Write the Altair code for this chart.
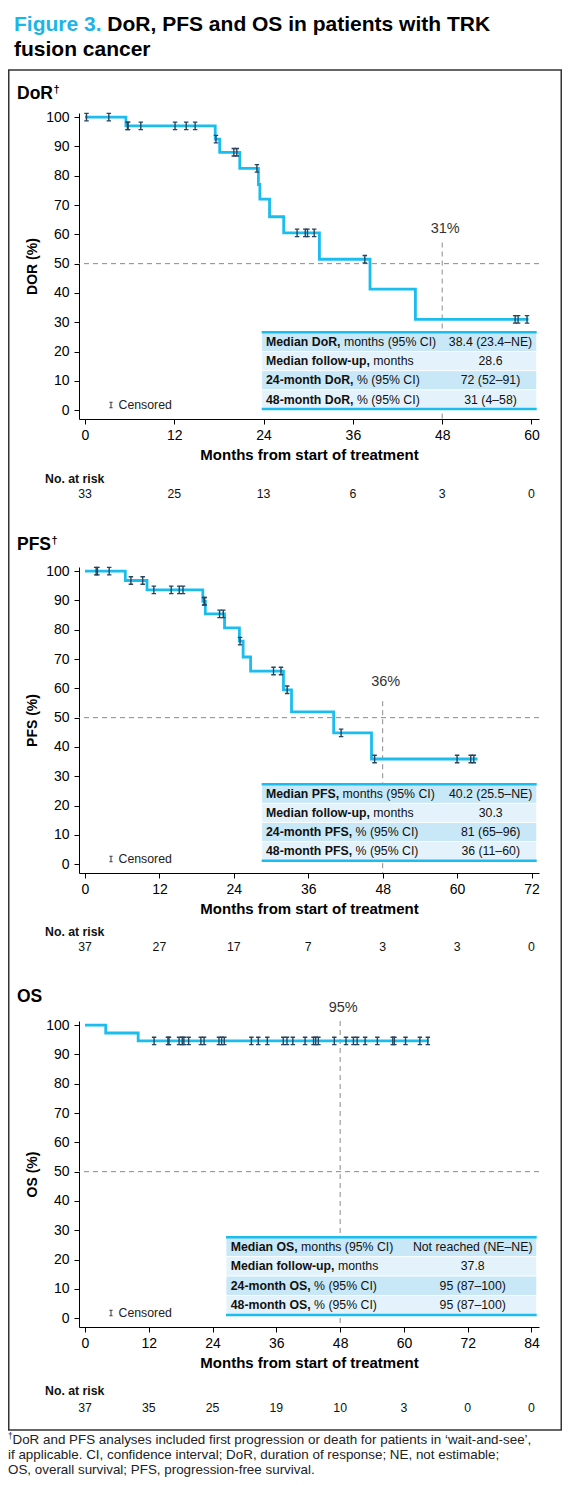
import altair as alt
import pandas as pd

FONT = "Liberation Sans"
CYAN = "#1bbdee"
CENSOR_COL = "#26445f"
DASH_COL = "#8a8a8a"
TXT = "#111111"
ROW_A = "#c8e8f7"
ROW_B = "#e4f3fb"
TITLE_CYAN = "#1cb5e8"

# ---------------- data ----------------
DOR_T = [0, 5.5, 17.5, 18.1, 20.8, 23.3, 23.5, 24.8, 26.7, 31.5, 38.3, 44.4, 59.6]
DOR_S = [100, 97, 92.5, 88, 82.5, 77, 72, 66, 60.5, 51.5, 41.3, 31, 31]
DOR_CENS_T = [0.2, 3.2, 5.7, 5.8, 7.5, 12.1, 13.6, 14.8, 17.6, 20.0, 20.4, 23.1,
              28.5, 29.6, 29.9, 30.8, 37.6, 57.8, 58.2, 59.4]
DOR_CENS_S = [100, 100, 97, 97, 97, 97, 97, 97, 92.5, 88, 88, 82.5,
              60.5, 60.5, 60.5, 60.5, 51.5, 31, 31, 31]
DOR_RISK = [33, 25, 13, 6, 3, 0]
DOR_BOLD = ["Median DoR,", "Median follow-up,", "24-month DoR,", "48-month DoR,"]
DOR_NORM = ["months (95% CI)", "months", "% (95% CI)", "% (95% CI)"]
DOR_VAL = ["38.4 (23.4–NE)", "28.6", "72 (52–91)", "31 (4–58)"]

PFS_T = [0, 6.5, 10.0, 19.0, 19.4, 22.5, 24.9, 25.5, 26.7, 32.0, 33.3, 40.1, 46.2, 63.3]
PFS_S = [100, 96.8, 93.6, 89.7, 85.4, 80.6, 76.1, 70.7, 65.9, 59.5, 52.0, 44.8, 35.9, 35.9]
PFS_CENS_T = [1.8, 2.0, 3.9, 7.4, 9.3, 11.1, 13.9, 15.2, 15.8, 19.2, 19.3, 21.7, 22.3,
              25.0, 30.4, 31.6, 32.6, 41.3, 46.7, 60.0, 62.2, 62.7]
PFS_CENS_S = [100, 100, 100, 96.8, 96.8, 93.6, 93.6, 93.6, 93.6, 89.7, 89.7, 85.4, 85.4,
              76.1, 65.9, 65.9, 59.5, 44.8, 35.9, 35.9, 35.9, 35.9]
PFS_RISK = [37, 27, 17, 7, 3, 3, 0]
PFS_BOLD = ["Median PFS,", "Median follow-up,", "24-month PFS,", "48-month PFS,"]
PFS_NORM = ["months (95% CI)", "months", "% (95% CI)", "% (95% CI)"]
PFS_VAL = ["40.2 (25.5–NE)", "30.3", "81 (65–96)", "36 (11–60)"]

OS_T = [0, 3.9, 10.0, 64.7]
OS_S = [100, 97.3, 94.6, 94.6]
OS_CENS_T = [13.0, 15.6, 15.8, 17.7, 18.3, 18.6, 19.5, 21.8, 22.4, 25.2, 25.7, 26.2,
             31.3, 32.6, 34.3, 37.3, 38.0, 39.1, 41.4, 43.0, 43.4, 43.9, 46.9, 49.1,
             50.5, 51.2, 52.7, 55.0, 57.9, 58.2, 60.3, 63.0, 64.5]
OS_CENS_S = [94.6] * len(OS_CENS_T)
OS_RISK = [37, 35, 25, 19, 10, 3, 0, 0]
OS_BOLD = ["Median OS,", "Median follow-up,", "24-month OS,", "48-month OS,"]
OS_NORM = ["months (95% CI)", "months", "% (95% CI)", "% (95% CI)"]
OS_VAL = ["Not reached (NE–NE)", "37.8", "95 (87–100)", "95 (87–100)"]

FOOTNOTE = [
    "DoR and PFS analyses included first progression or death for patients in ‘wait-and-see’,",
    "if applicable. CI, confidence interval; DoR, duration of response; NE, not estimable;",
    "OS, overall survival; PFS, progression-free survival.",
]

# ---------------- text metrics (Arial / Liberation Sans) ----------------
REG = {' ': 278, '%': 889, '(': 333, ')': 333, ',': 278, '-': 333, '.': 278, '–': 556,
       'C': 722, 'D': 722, 'E': 667, 'F': 611, 'I': 278, 'K': 667, 'M': 833, 'N': 722,
       'O': 778, 'P': 667, 'R': 722, 'S': 667, 'T': 611, 'a': 556, 'c': 500, 'd': 556,
       'e': 556, 'f': 278, 'g': 556, 'h': 556, 'i': 222, 'l': 222, 'm': 833, 'n': 556,
       'o': 556, 'p': 556, 'r': 333, 's': 500, 't': 278, 'u': 556, 'w': 722}
BOLD = {' ': 278, '%': 889, '(': 333, ')': 333, ',': 278, '-': 333, '.': 278, '–': 556,
        'C': 722, 'D': 722, 'F': 611, 'I': 278, 'K': 722, 'M': 833, 'O': 778, 'P': 667,
        'R': 722, 'S': 667, 'T': 611, 'a': 556, 'c': 556, 'd': 611, 'e': 556, 'f': 333,
        'g': 611, 'h': 611, 'i': 278, 'l': 278, 'm': 889, 'n': 611, 'o': 611, 'p': 611,
        'r': 389, 's': 556, 't': 333, 'u': 611, 'w': 778}


def text_w(s, size, bold=False):
    tab = BOLD if bold else REG
    return sum(tab.get(ch, 556) for ch in s) * size / 1000.0


# ---------------- layout ----------------
W = 460
H = 306
YMIN, YMAX = -3.0, 101.4
TICK_SPAN_PX = 446.5
ZERO_PX = 6.0
ISHAPE = "M-0.6,-1H0.6M0,-1V1M-0.6,1H0.6"
TBL_FS = 12.3
RISK_FS = 12.3
TITLE_FS = 21


def one(**kw):
    return pd.DataFrame({k: [v] for k, v in kw.items()})


def panel(p, first=False, last=False):
    lt = p["last_tick"]
    ppm = TICK_SPAN_PX / lt
    xmin = -ZERO_PX / ppm
    xmax = xmin + W / ppm

    def tx(px):
        return xmin + px / W * (xmax - xmin)

    def sy(py):
        return YMAX - py / H * (YMAX - YMIN)

    ticks = list(range(0, lt + 1, 12))
    xs = alt.Scale(domain=[xmin, xmax], nice=False, zero=False)
    ys = alt.Scale(domain=[YMIN, YMAX], nice=False, zero=False)
    xax = alt.Axis(values=ticks, title="Months from start of treatment", grid=False)
    yax = alt.Axis(values=list(range(0, 101, 10)), title=p["ytitle"], grid=False)

    def X(f="t"):
        return alt.X(f, type="quantitative", scale=xs, axis=xax)

    def Y(f="s"):
        return alt.Y(f, type="quantitative", scale=ys, axis=yax)

    layers = []
    # dashed reference lines
    layers.append(alt.Chart(one(s=50)).mark_rule(strokeDash=[5, 4], color=DASH_COL, strokeWidth=1)
                  .encode(y=Y()))
    layers.append(alt.Chart(one(t=48, s=p["vtop"], s2=YMIN))
                  .mark_rule(strokeDash=[5, 4], color=DASH_COL, strokeWidth=1)
                  .encode(x=X(), y=Y(), y2=alt.Y2("s2")))
    # curve
    layers.append(alt.Chart(pd.DataFrame({"t": p["T"], "s": p["S"]}))
                  .mark_line(interpolate="step-after", color=CYAN, strokeWidth=2.8)
                  .encode(x=X(), y=Y()))
    # censored
    layers.append(alt.Chart(pd.DataFrame({"t": p["CT"], "s": p["CS"]}))
                  .mark_point(shape=ISHAPE, size=56, filled=False, color=CENSOR_COL,
                              strokeWidth=1.4, opacity=1)
                  .encode(x=X(), y=Y()))
    # table
    tl, tr, tt, rh = p["tbl"]
    rows = pd.DataFrame({
        "t": [tx(tl)] * 4, "t2": [tx(tr)] * 4,
        "s": [sy(tt + i * rh) for i in range(4)],
        "s2": [sy(tt + (i + 1) * rh) for i in range(4)],
        "fill": [ROW_A, ROW_B, ROW_A, ROW_B],
    })
    layers.append(alt.Chart(rows).mark_rect(stroke="white", strokeWidth=0.8)
                  .encode(x=X(), x2=alt.X2("t2"), y=Y(), y2=alt.Y2("s2"),
                          color=alt.Color("fill:N", scale=None)))
    borders = pd.DataFrame({"t": [tx(tl)] * 2, "t2": [tx(tr)] * 2,
                            "s": [sy(tt), sy(tt + 4 * rh)]})
    layers.append(alt.Chart(borders).mark_rule(color=CYAN, strokeWidth=2.5)
                  .encode(x=X(), x2=alt.X2("t2"), y=Y()))
    pad = p["tpad"]
    mids = [sy(tt + (i + 0.5) * rh) for i in range(4)]
    bold_df = pd.DataFrame({"t": [tx(tl + pad)] * 4, "s": mids, "txt": p["BOLD"]})
    norm_df = pd.DataFrame({
        "t": [tx(tl + pad + text_w(b, TBL_FS, True) + text_w(" ", TBL_FS)) for b in p["BOLD"]],
        "s": mids, "txt": p["NORM"]})
    val_df = pd.DataFrame({"t": [tx(p["vc"])] * 4, "s": mids, "txt": p["VAL"]})
    layers.append(alt.Chart(bold_df).mark_text(align="left", baseline="middle", fontSize=TBL_FS,
                                               fontWeight="bold", color=TXT)
                  .encode(x=X(), y=Y(), text="txt:N"))
    layers.append(alt.Chart(norm_df).mark_text(align="left", baseline="middle", fontSize=TBL_FS,
                                               color=TXT)
                  .encode(x=X(), y=Y(), text="txt:N"))
    layers.append(alt.Chart(val_df).mark_text(align="center", baseline="middle", fontSize=TBL_FS,
                                              color=TXT)
                  .encode(x=X(), y=Y(), text="txt:N"))
    # percent label
    layers.append(alt.Chart(one(t=48, s=p["lab_s"], txt=p["lab"]))
                  .mark_text(fontSize=14.5, dx=3, baseline="middle", color="#333333")
                  .encode(x=X(), y=Y(), text="txt:N"))
    # censored legend
    layers.append(alt.Chart(one(k=1)).mark_point(shape=ISHAPE, size=30, filled=False,
                                                 color="#444444", strokeWidth=1.1, opacity=1)
                  .encode(x=alt.value(32), y=alt.value(292)))
    layers.append(alt.Chart(one(txt="Censored")).mark_text(align="left", baseline="middle",
                                                           fontSize=12.3, color="#222222")
                  .encode(x=alt.value(39.5), y=alt.value(292), text="txt:N"))
    # number at risk
    layers.append(alt.Chart(one(txt="No. at risk")).mark_text(align="left", baseline="middle",
                                                              fontSize=RISK_FS, fontWeight="bold",
                                                              color=TXT)
                  .encode(x=alt.value(-34), y=alt.value(H + p["r1"]), text="txt:N"))
    layers.append(alt.Chart(pd.DataFrame({"t": ticks, "n": p["RISK"]}))
                  .mark_text(align="center", baseline="middle", fontSize=RISK_FS, color=TXT)
                  .encode(x=X(), y=alt.value(H + p["r2"]), text="n:N"))
    # panel title
    layers.append(alt.Chart(one(txt=p["name"])).mark_text(align="left", baseline="alphabetic",
                                                          fontSize=17.5, fontWeight="bold",
                                                          color="#000000")
                  .encode(x=alt.value(-62), y=alt.value(p["title_y"]), text="txt:N"))
    if p["dagger"]:
        layers.append(alt.Chart(one(txt="†")).mark_text(align="left", baseline="alphabetic",
                                                        fontSize=11, fontWeight="bold",
                                                        color="#000000")
                      .encode(x=alt.value(-62 + text_w(p["name"], 17.5, True) + 0.5),
                              y=alt.value(p["title_y"] - 6), text="txt:N"))
    if first:
        layers.append(alt.Chart(one(k=1)).mark_rect(opacity=0)
                      .encode(x=alt.value(-71), x2=alt.value(-70),
                              y=alt.value(-105), y2=alt.value(-104)))
        layers.append(alt.Chart(one(k=1)).mark_rect(fill="transparent", stroke="#333333",
                                                    strokeWidth=1.5)
                      .encode(x=alt.value(-70.25), x2=alt.value(482.25),
                              y=alt.value(-43), y2=alt.value(1317)))
        t1 = "Figure 3."
        layers.append(alt.Chart(one(txt=t1)).mark_text(align="left", baseline="alphabetic",
                                                       fontSize=TITLE_FS, fontWeight="bold",
                                                       color=TITLE_CYAN)
                      .encode(x=alt.value(-65), y=alt.value(-82), text="txt:N"))
        layers.append(alt.Chart(one(txt="DoR, PFS and OS in patients with TRK"))
                      .mark_text(align="left", baseline="alphabetic", fontSize=TITLE_FS,
                                 fontWeight="bold", color="#000000")
                      .encode(x=alt.value(-65 + text_w(t1 + " ", TITLE_FS, True)), y=alt.value(-82),
                              text="txt:N"))
        layers.append(alt.Chart(one(txt="fusion cancer"))
                      .mark_text(align="left", baseline="alphabetic", fontSize=TITLE_FS,
                                 fontWeight="bold", color="#000000")
                      .encode(x=alt.value(-65), y=alt.value(-57), text="txt:N"))
    if last:
        layers.append(alt.Chart(one(txt="†")).mark_text(align="left", baseline="alphabetic",
                                                        fontSize=8.5, color="#222222")
                      .encode(x=alt.value(-71), y=alt.value(418), text="txt:N"))
        for i, line in enumerate(FOOTNOTE):
            layers.append(alt.Chart(one(txt=line)).mark_text(align="left", baseline="alphabetic",
                                                             fontSize=13.4, color="#222222")
                          .encode(x=alt.value(-71 + (4.5 if i == 0 else 0)),
                                  y=alt.value(423 + 15 * i), text="txt:N"))
    return alt.layer(*layers).properties(width=W, height=H)


P_DOR = dict(name="DoR", dagger=True, ytitle="DOR (%)", last_tick=60, T=DOR_T, S=DOR_S,
             CT=DOR_CENS_T, CS=DOR_CENS_S, RISK=DOR_RISK, BOLD=DOR_BOLD, NORM=DOR_NORM,
             VAL=DOR_VAL, tbl=(182.7, 457.7, 219.3, 19.2), tpad=4.3, vc=411.5,
             vtop=57.2, lab="31%", lab_s=61.8, r1=60, r2=75, title_y=-14.5)
P_PFS = dict(name="PFS", dagger=True, ytitle="PFS (%)", last_tick=72, T=PFS_T, S=PFS_S,
             CT=PFS_CENS_T, CS=PFS_CENS_S, RISK=PFS_RISK, BOLD=PFS_BOLD, NORM=PFS_NORM,
             VAL=PFS_VAL, tbl=(182.7, 457.7, 217.3, 19.1), tpad=4.3, vc=411.7,
             vtop=55.6, lab="36%", lab_s=62.0, r1=59, r2=74, title_y=-17.5)
P_OS = dict(name="OS", dagger=False, ytitle="OS (%)", last_tick=84, T=OS_T, S=OS_S,
            CT=OS_CENS_T, CS=OS_CENS_S, RISK=OS_RISK, BOLD=OS_BOLD, NORM=OS_NORM,
            VAL=OS_VAL, tbl=(147.0, 457.7, 216.3, 19.4), tpad=4.7, vc=393.7,
            vtop=101.4, lab="95%", lab_s=105.9, r1=64, r2=81, title_y=-19)

chart = alt.vconcat(
    panel(P_DOR, first=True), panel(P_PFS), panel(P_OS, last=True),
    spacing=148, bounds="flush", padding=0,
).configure(font=FONT).configure_view(strokeWidth=0).configure_axis(
    domainColor="#000000", tickColor="#000000", labelColor="#000000", titleColor="#000000",
    labelFontSize=14, titleFontSize=14, titleFontWeight="bold", tickSize=5,
    labelPadding=4, domainWidth=1, tickWidth=1, grid=False,
).configure_axisY(titlePadding=6, labelPadding=5).configure_axisX(titlePadding=5, titleFontSize=15)

chart.save("out.html", embed_options={"renderer": "svg", "actions": False})
